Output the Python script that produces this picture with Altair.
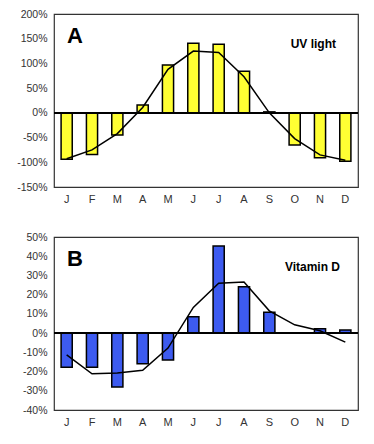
import altair as alt
import pandas as pd

months = ["Jan", "Feb", "Mar", "Apr", "May", "Jun", "Jul", "Aug", "Sep", "Oct", "Nov", "Dec"]
uv_bars = [-94, -84, -45, 16, 97, 141, 139, 84, 2, -65, -91, -98]
uv_line = [-93, -75, -42, 11, 88, 125, 122, 73, 0, -52, -85, -96]
vd_bars = [-17.7, -17.7, -28, -16, -14, 8.5, 45.3, 24.1, 10.9, 0, 2.3, 1.6]
vd_line = [-11.3, -21.2, -20.8, -19.3, -7.8, 13.4, 25.9, 26.6, 11.6, 4.3, 1.2, -4.7]

FONT = "Liberation Sans"
W, H = 304, 173


def panel(bars, line, color, dom, step, letter, label, lx):
    df = pd.DataFrame({"month": months, "bar": bars, "line": line, "z": [0] * 12})
    xs = alt.Scale(paddingInner=0.56, paddingOuter=0.28)
    x_axis = alt.Axis(title=None, labelAngle=0, ticks=False, domain=False,
                      labelExpr="substring(datum.label,0,1)", labelOverlap=False,
                      labelFont=FONT, labelFontSize=11, labelColor="#333",
                      labelPadding=6)
    y_scale = alt.Scale(domain=dom, nice=False, zero=False)
    y_axis = alt.Axis(title=None, values=list(range(dom[0], dom[1] + 1, step)),
                      labelExpr="datum.value + '%'", ticks=False, domain=False,
                      grid=False, labelFont=FONT, labelFontSize=10.5, labelColor="#333",
                      labelPadding=7, labelOverlap=False)
    base = alt.Chart(df)
    b = base.mark_bar(color=color, stroke="black", strokeWidth=1.5).encode(
        x=alt.X("month:N", sort=months, scale=xs, axis=x_axis),
        y=alt.Y("bar:Q", scale=y_scale, axis=y_axis))
    zero = base.mark_rule(color="black", strokeWidth=1.5).encode(
        y=alt.Y("z:Q", scale=y_scale, axis=y_axis))
    ln = base.mark_line(color="black", strokeWidth=1.5).encode(
        x=alt.X("month:N", sort=months, scale=xs, axis=x_axis),
        y=alt.Y("line:Q", scale=y_scale, axis=y_axis))
    t1 = alt.Chart(pd.DataFrame({"t": [letter]})).mark_text(
        font=FONT, fontSize=22, fontWeight="bold", align="left", baseline="middle",
        color="black").encode(text="t:N", x=alt.value(13), y=alt.value(22))
    t2 = alt.Chart(pd.DataFrame({"t": [label]})).mark_text(
        font=FONT, fontSize=12, fontWeight="bold", align="right", baseline="middle",
        color="black").encode(text="t:N", x=alt.value(lx), y=alt.value(30))
    return alt.layer(b, zero, ln, t1, t2).properties(width=W, height=H)


a = panel(uv_bars, uv_line, "#FFFF33", [-150, 200], 50, "A", "UV light", 282)
bb = panel(vd_bars, vd_line, "#3D5BF0", [-40, 50], 10, "B", "Vitamin D", 286)

chart = alt.vconcat(a, bb, spacing=26).properties(
    padding={"left": 8, "top": 0, "right": 0, "bottom": 0}
).configure_view(stroke="#333", strokeWidth=1.2)
chart.save("out.html", embed_options={"renderer": "svg", "actions": False})
